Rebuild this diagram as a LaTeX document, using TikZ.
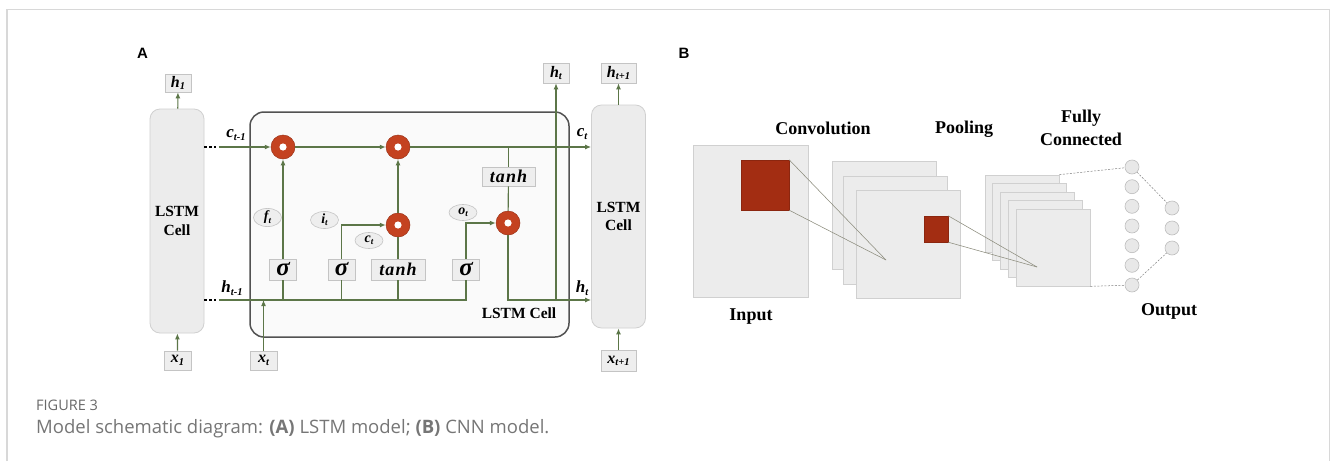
\documentclass[tikz,border=0pt]{standalone}
\usepackage{fontspec}
\setmainfont{Liberation Serif}
\newfontfamily\capfont{Open Sans}
\newfontfamily\labfont{Liberation Sans}
\usetikzlibrary{arrows.meta,shapes.geometric,shadows,calc}
\definecolor{lgreen}{RGB}{92,118,72}
\definecolor{boxgray}{RGB}{238,238,238}
\definecolor{boxborder}{RGB}{196,196,196}
\definecolor{cellgray}{RGB}{236,236,236}
\definecolor{cellborder}{RGB}{208,208,208}
\definecolor{redring}{RGB}{196,66,32}
\definecolor{cnnred}{RGB}{163,45,18}
\definecolor{framegray}{RGB}{216,216,216}
\definecolor{captgray}{RGB}{118,118,118}
\definecolor{figgray}{RGB}{105,105,105}
\definecolor{projgray}{RGB}{140,140,125}
\definecolor{neufill}{RGB}{232,232,232}
\definecolor{neuborder}{RGB}{190,190,190}
\newcommand\myfs[1]{\fontsize{#1}{#1}\selectfont}
\newcommand\sbs[1]{\raisebox{-0.35ex}{\fontsize{10.5}{10.5}\selectfont #1}}
\newcommand\sbg[1]{\raisebox{-0.35ex}{\fontsize{9}{9}\selectfont #1}}
\begin{document}
\begin{tikzpicture}[x=1pt,y=-1pt,
  gline/.style={draw=lgreen,line width=1.15pt},
  garrow/.style={gline,-{Latex[length=6pt,width=5pt]}},
  vbox/.style={rectangle,fill=boxgray,draw=boxborder,line width=0.6pt,inner sep=0pt,
    font=\bfseries\itshape\myfs{16},
    drop shadow={shadow xshift=0.8pt,shadow yshift=-0.8pt,fill=black!22}},
  gatebox/.style={vbox,minimum width=27pt,minimum height=21pt,font=\bfseries\itshape\myfs{25}},
  tanhbox/.style={vbox,minimum width=54pt,minimum height=21pt,font=\bfseries\itshape\myfs{18}\addfontfeatures{LetterSpace=6}},
  gate/.style={ellipse,fill=boxgray,draw=boxborder,line width=0.6pt,minimum width=28pt,
    minimum height=16pt,inner sep=0pt,font=\bfseries\itshape\myfs{14}},
  mult/.style={circle,fill=redring,draw=redring!80!black,line width=0.5pt,minimum size=24pt,inner sep=0pt,
    path picture={\fill[white] (path picture bounding box.center) circle (3.6pt);}},
  cell/.style={rectangle,rounded corners=10pt,fill=cellgray,draw=cellborder,line width=0.8pt,
    minimum width=54pt,align=center,font=\bfseries\fontsize{15.5}{18.5}\selectfont},
  lab/.style={font=\bfseries\itshape\myfs{17},inner sep=0pt},
  fmap/.style={rectangle,fill=cellgray,draw=cellborder,line width=0.7pt,inner sep=0pt},
  neuron/.style={circle,fill=neufill,draw=neuborder,minimum size=14pt,inner sep=0pt,line width=0.6pt},
  proj/.style={draw=projgray,line width=0.55pt},
  fcdash/.style={draw=gray,dash pattern=on 2pt off 1.5pt,line width=0.5pt},
  ttl/.style={font=\bfseries\myfs{18},inner sep=0pt}
]
\useasboundingbox (0,0) rectangle (1331,461);
\fill[white] (0,0) rectangle (1331,461);
% frame
\draw[framegray,line width=1.4pt] (7,461) -- (7,9.5) -- (1329.5,9.5) -- (1329.5,461);

% panel labels
\node[font=\labfont\bfseries\myfs{15}] (pA) at (142.5,53) {A};
\node[font=\labfont\bfseries\myfs{15}] (pB) at (684,53) {B};

% ================= LSTM =================
\node[rectangle,rounded corners=14pt,draw=black!68,line width=1.5pt,fill=black!2,
  minimum width=319pt,minimum height=225pt] (cellbox) at (409.5,224.5) {};
\node[font=\bfseries\myfs{15.5}] (cbl) at (519,313) {LSTM Cell};

\node[cell,minimum height=224pt] (lcell) at (177,221) {LSTM\\Cell};
\node[cell,minimum height=223pt] (rcell) at (618.5,216.5) {LSTM\\Cell};

\node[vbox,minimum width=26pt,minimum height=18pt] (h1) at (178,83) {h\sbs{1}};
\node[vbox,minimum width=27pt,minimum height=19pt] (x1) at (177.5,360.5) {x\sbs{1}};
\node[vbox,minimum width=27pt,minimum height=19pt] (xt) at (263.5,360.5) {x\sbs{t}};
\node[vbox,minimum width=26pt,minimum height=20pt] (ht) at (556,73) {h\sbs{t}};
\node[vbox,minimum width=35pt,minimum height=20pt] (htp) at (618.5,73) {h\sbs{t+1}};
\node[vbox,minimum width=35pt,minimum height=21pt] (xtp) at (618.5,361) {x\sbs{t+1}};

\node[mult] (m1) at (283,147) {};
\node[mult] (m2) at (398,147) {};
\node[mult] (m3) at (398,225) {};
\node[mult] (m4) at (508,223) {};

\node[gatebox] (s1) at (283,269.5) {σ};
\node[gatebox] (s2) at (341.5,269.5) {σ};
\node[tanhbox] (th1) at (398,269.5) {tanh};
\node[gatebox] (s3) at (466,269.5) {σ};
\node[tanhbox,minimum width=53pt,minimum height=19pt] (th2) at (508.5,176.5) {tanh};

\node[gate] (gf) at (267.5,217.5) {f\sbg{t}};
\node[gate] (gi) at (324.5,220) {i\sbg{t}};
\node[gate] (gc) at (369,240.5) {c\sbg{t}};
\node[gate] (go) at (463,212.5) {o\sbg{t}};

\node[lab] (lc1) at (236,135) {c\sbs{t-1}};
\node[lab] (lh1) at (232,288) {h\sbs{t-1}};
\node[lab] (lc2) at (582,134) {c\sbs{t}};
\node[lab] (lh2) at (582,288) {h\sbs{t}};

\coordinate (cdot) at (219,147);
\coordinate (hdot) at (219,300);

% dotted continuations
\draw[black,line width=2.6pt,dash pattern=on 2.4pt off 2.4pt] (lcell.east |- cdot) -- (cdot);
\draw[black,line width=2.6pt,dash pattern=on 2.4pt off 2.4pt] (lcell.east |- hdot) -- (hdot);

% cell state line
\draw[garrow] (cdot) -- (m1);
\draw[garrow] (m1) -- (m2);
\draw[garrow] (m2) -- (rcell.west |- m2);
% hidden line
\draw[gline] (hdot) -| (s3);
\draw[gline] (s1) -- (s1 |- hdot);
\draw[gline] (s2) -- (s2 |- hdot);
\draw[gline] (th1) -- (th1 |- hdot);
\draw[garrow] (xt) -- (xt |- hdot);
% gates
\draw[garrow] (s1) -- (m1);
\draw[garrow] (s2.north) |- (m3);
\draw[gline] (th1) -- (m3);
\draw[garrow] (m3) -- (m2);
\draw[garrow] (s3.north) |- (m4);
\draw[gline] (th2) -- (th2 |- m2);
\draw[gline] (th2) -- (m4);
% output
\draw[garrow] (m4) |- (rcell.west |- hdot);
\draw[garrow] (ht |- hdot) -- (ht);
% cell in/out
\draw[garrow] (lcell) -- (h1);
\draw[garrow] (x1) -- (lcell);
\draw[garrow] (rcell) -- (htp);
\draw[garrow] (xtp) -- (rcell);

% ================= CNN =================
\node[fmap,minimum width=115pt,minimum height=152pt] (inp) at (750.5,221) {};
\node[rectangle,fill=cnnred,draw=cnnred!85!black,line width=0.4pt,minimum width=48pt,minimum height=50pt,inner sep=0pt] (rs1) at (765,185) {};

\node[fmap,minimum width=104pt,minimum height=108pt] (cv1) at (884,215) {};
\node[fmap,minimum width=104pt,minimum height=108pt] (cv2) at (895.5,230.5) {};
\node[fmap,minimum width=104pt,minimum height=108pt] (cv3) at (908,244) {};
\node[rectangle,fill=cnnred,draw=cnnred!85!black,line width=0.4pt,minimum width=24pt,minimum height=26pt,inner sep=0pt] (rs2) at (936,229) {};

\coordinate (cp) at (886,260);
\draw[proj] (rs1.north east) -- (cp);
\draw[proj] (rs1.south east) -- (cp);

\node[fmap,minimum width=74pt,minimum height=77pt] (pl1) at (1022,213.5) {};
\node[fmap,minimum width=74pt,minimum height=77pt] (pl2) at (1029.5,222) {};
\node[fmap,minimum width=74pt,minimum height=77pt] (pl3) at (1037,230.5) {};
\node[fmap,minimum width=74pt,minimum height=77pt] (pl4) at (1045,238.5) {};
\node[fmap,minimum width=74pt,minimum height=77pt] (pl5) at (1053,247.5) {};

\coordinate (pp) at (1037,267);
\draw[proj] (rs2.north east) -- (pp);
\draw[proj] (rs2.south east) -- (pp);

\foreach \i/\yy in {1/167,2/186.7,3/206.3,4/226,5/245.7,6/265.3,7/285}
  \node[neuron] (f\i) at (1132,\yy) {};
\foreach \i/\yy in {1/208,2/228,3/248}
  \node[neuron] (o\i) at (1172,\yy) {};

\draw[fcdash] (pl1.north east) -- (f1);
\draw[fcdash] (pl5.south east) -- (f7);
\draw[fcdash] (f1) -- (o1);
\draw[fcdash] (f7) -- (o3);

\node[ttl] (tconv) at (823,128.5) {Convolution};
\node[ttl] (tpool) at (964,129) {Pooling};
\node[ttl] (tfully) at (1081,118.5) {Fully};
\node[ttl] (tconn) at (1081,139) {Connected};
\node[ttl] (tinp) at (751,317) {Input};
\node[ttl] (tout) at (1169,311.5) {Output};

% caption
\node[anchor=west,inner sep=0pt,font=\capfont\myfs{14.5},text=figgray] (fig) at (36,405) {FIGURE 3};
\node[anchor=west,inner sep=0pt,font=\capfont\myfs{18.5},text=captgray] (cap) at (36,428.5)
  {Model schematic diagram: \textbf{(A)} LSTM model; \textbf{(B)} CNN model.};
\end{tikzpicture}
\end{document}
